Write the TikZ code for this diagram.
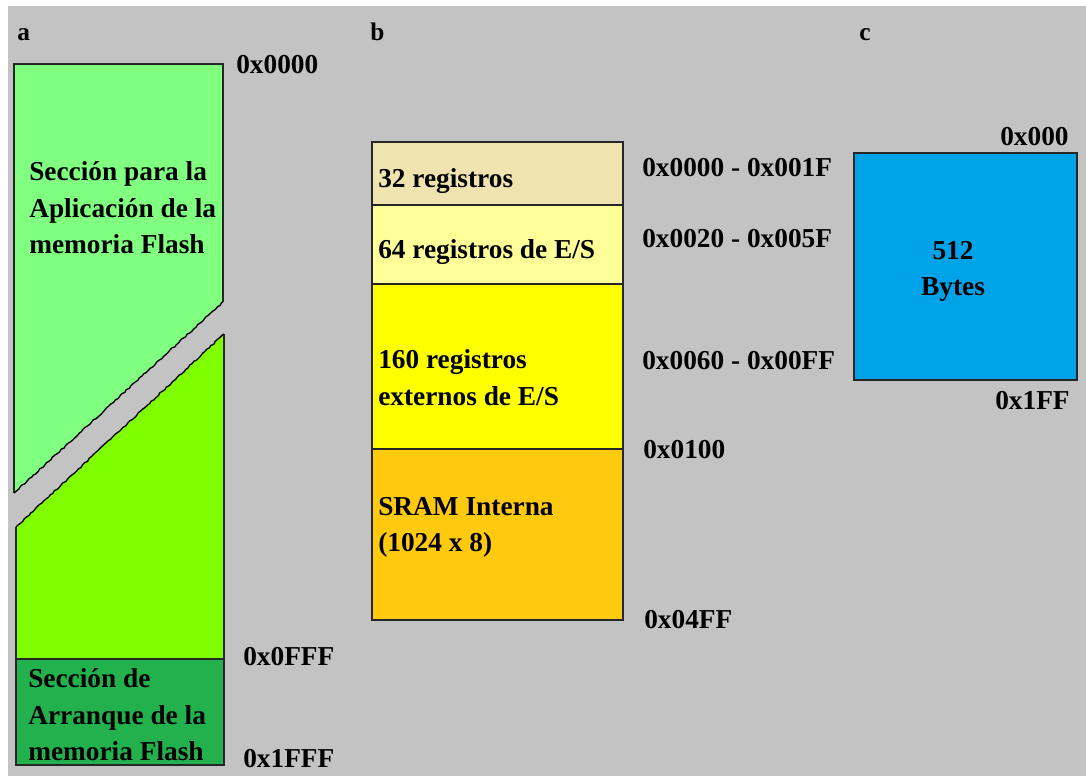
\documentclass[tikz,border=0pt]{standalone}
\usepackage{fontspec}
\setmainfont{Liberation Serif}
\usetikzlibrary{decorations.pathmorphing}
\definecolor{bg}{RGB}{195,195,195}
\definecolor{flashA}{RGB}{128,255,128}
\definecolor{flashB}{RGB}{128,255,0}
\definecolor{boot}{RGB}{34,177,76}
\definecolor{regA}{RGB}{239,228,176}
\definecolor{regB}{RGB}{255,255,153}
\definecolor{regC}{RGB}{255,255,0}
\definecolor{sram}{RGB}{255,201,14}
\definecolor{eep}{RGB}{0,162,232}
\tikzset{
  blk/.style={draw=black!85, line width=1.1pt},
  torn/.style={decorate, decoration={random steps, segment length=2.2pt, amplitude=0.5pt}},
  big/.style={inner sep=0pt, anchor=base west, font=\fontsize{20.5}{27}\selectfont\bfseries},
  tag/.style={inner sep=0pt, anchor=base west, font=\fontsize{19}{22}\selectfont\bfseries}
}
\begin{document}
\begin{tikzpicture}[x=0.75pt,y=-0.75pt]
\useasboundingbox (0,0) rectangle (1086,776);
\fill[white] (0,0) rectangle (1086,776);
\fill[bg] (8,6) rectangle (1086,776);

% ---- panel a ----
\node[tag] (ta) at (17,40) {a};
\fill[flashA] (14,64) -- (223,64) -- (223,302) -- (14,493) -- cycle;
\draw[blk] (223,302) -- (223,64) -- (14,64) -- (14,493);
\draw[black, line width=1pt, torn] (14,493) -- (223,302);
\fill[flashB] (16,527) -- (224,334) -- (224,659) -- (16,659) -- cycle;
\draw[blk] (16,527) -- (16,659) -- (224,659) -- (224,334);
\draw[black, line width=1pt, torn] (16,527) -- (224,334);
\draw[blk, fill=boot] (16,659) rectangle (224,765);
\node[big] (a0) at (236,73) {0x0000};
\node[big] (a1) at (243,665) {0x0FFF};
\node[big] (a2) at (243,767) {0x1FFF};
\node[big] (app1) at (29,180) {Sección para la};
\node[big] (app2) at (29,217) {Aplicación de la};
\node[big] (app3) at (29,253) {memoria Flash};
\node[big] (bt1) at (28,687) {Sección de};
\node[big] (bt2) at (28,724) {Arranque de la};
\node[big] (bt3) at (28,760) {memoria Flash};

% ---- panel b ----
\node[tag] (tb) at (370,40) {b};
\draw[blk, fill=regA] (372,142) rectangle (623,205);
\draw[blk, fill=regB] (372,205) rectangle (623,284);
\draw[blk, fill=regC] (372,284) rectangle (623,449);
\draw[blk, fill=sram] (372,449) rectangle (623,620);
\node[big] (r1) at (378,187) {32 registros};
\node[big] (r2) at (378,258) {64 registros de E/S};
\node[big] (r3) at (378,368) {160 registros};
\node[big] (r4) at (378,405) {externos de E/S};
\node[big] (r5) at (378,515) {SRAM Interna};
\node[big] (r6) at (378,551) {(1024 x 8)};
\node[big] (b1) at (642,176) {0x0000 - 0x001F};
\node[big] (b2) at (642,247) {0x0020 - 0x005F};
\node[big] (b3) at (642,369) {0x0060 - 0x00FF};
\node[big] (b4) at (643,458) {0x0100};
\node[big] (b5) at (644,628) {0x04FF};

% ---- panel c ----
\node[tag] (tc) at (859,40) {c};
\draw[blk, fill=eep] (854,153) rectangle (1077,380);
\node[big, anchor=base] (e1) at (953,259) {512};
\node[big, anchor=base] (e2) at (953,295) {Bytes};
\node[big] (c1) at (1000,145) {0x000};
\node[big] (c2) at (995,409) {0x1FF};
\end{tikzpicture}
\end{document}
